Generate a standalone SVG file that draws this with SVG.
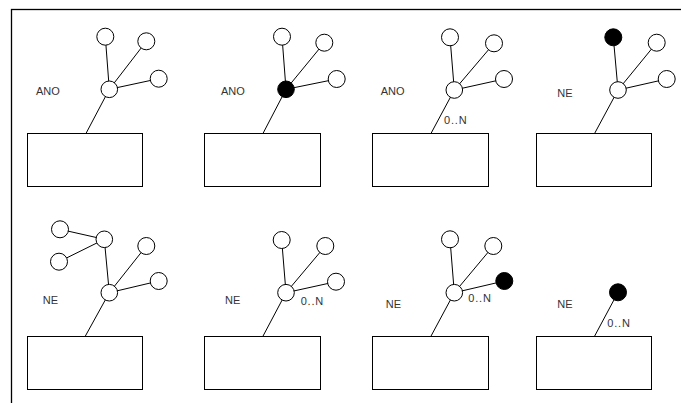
<svg xmlns="http://www.w3.org/2000/svg" width="681" height="403" viewBox="0 0 681 403">
  <style>
    .frame { fill: none; stroke: #000; stroke-width: 1.3; }
    .box { fill: #fff; stroke: #000; stroke-width: 1; }
    .link { stroke: #000; stroke-width: 1; fill: none; }
    .open { fill: #fff; stroke: #000; stroke-width: 1; }
    .full { fill: #000; stroke: #000; stroke-width: 1; }
    .lbl { font-family: "Liberation Sans", Arial, sans-serif; font-size: 11px; fill: #333; }
    .card { font-family: "Liberation Sans", Arial, sans-serif; font-size: 11px; fill: #333; letter-spacing: 0.8px; }
  </style>

  <rect class="frame" x="11.5" y="9.5" width="700" height="420"/>

  <!-- connectors -->
  <g id="connectors">
    <!-- panel 1 -->
    <line class="link" x1="85.7" y1="134" x2="109.3" y2="89.3"/>
    <line class="link" x1="109.3" y1="89.3" x2="105.3" y2="36.7"/>
    <line class="link" x1="109.3" y1="89.3" x2="146.3" y2="41.3"/>
    <line class="link" x1="109.3" y1="89.3" x2="158.7" y2="78.7"/>
    <!-- panel 2 -->
    <line class="link" x1="262.7" y1="134" x2="286" y2="89.3"/>
    <line class="link" x1="286" y1="89.3" x2="282" y2="36.7"/>
    <line class="link" x1="286" y1="89.3" x2="324.3" y2="42.7"/>
    <line class="link" x1="286" y1="89.3" x2="336.7" y2="79"/>
    <!-- panel 3 -->
    <line class="link" x1="430.7" y1="134" x2="454.3" y2="90"/>
    <line class="link" x1="454.3" y1="90" x2="450" y2="37.3"/>
    <line class="link" x1="454.3" y1="90" x2="494" y2="43.3"/>
    <line class="link" x1="454.3" y1="90" x2="504" y2="79"/>
    <!-- panel 4 -->
    <line class="link" x1="594.3" y1="134" x2="618" y2="90"/>
    <line class="link" x1="618" y1="90" x2="613.3" y2="37.3"/>
    <line class="link" x1="618" y1="90" x2="656.7" y2="42.7"/>
    <line class="link" x1="618" y1="90" x2="666.7" y2="79"/>
    <!-- panel 5 -->
    <line class="link" x1="85" y1="336.7" x2="109.3" y2="292.7"/>
    <line class="link" x1="109.3" y1="292.7" x2="104.3" y2="239.3"/>
    <line class="link" x1="104.3" y1="239.3" x2="60" y2="229.3"/>
    <line class="link" x1="104.3" y1="239.3" x2="59" y2="261.7"/>
    <line class="link" x1="109.3" y1="292.7" x2="146.3" y2="246"/>
    <line class="link" x1="109.3" y1="292.7" x2="158.7" y2="281"/>
    <!-- panel 6 -->
    <line class="link" x1="262.7" y1="336.7" x2="286" y2="292.7"/>
    <line class="link" x1="286" y1="292.7" x2="281.7" y2="240"/>
    <line class="link" x1="286" y1="292.7" x2="325.3" y2="246"/>
    <line class="link" x1="286" y1="292.7" x2="336" y2="281.7"/>
    <!-- panel 7 -->
    <line class="link" x1="430.7" y1="336.7" x2="454.3" y2="292.7"/>
    <line class="link" x1="454.3" y1="292.7" x2="450" y2="239.3"/>
    <line class="link" x1="454.3" y1="292.7" x2="493.3" y2="246"/>
    <line class="link" x1="454.3" y1="292.7" x2="504.3" y2="281"/>
    <!-- panel 8 -->
    <line class="link" x1="594.3" y1="336.7" x2="618" y2="292.3"/>
  </g>

  <!-- panel 1 -->
  <g id="p1-box"><rect class="box" x="27.5" y="133.5" width="115" height="53"/></g>
  <g id="p1-hub"><circle class="open" cx="109.3" cy="89.3" r="8.3"/></g>
  <g id="p1-a"><circle class="open" cx="105.3" cy="36.7" r="8.5"/></g>
  <g id="p1-b"><circle class="open" cx="146.3" cy="41.3" r="8.5"/></g>
  <g id="p1-c"><circle class="open" cx="158.7" cy="78.7" r="8.5"/></g>
  <text class="lbl" x="36" y="95">ANO</text>

  <!-- panel 2 -->
  <g id="p2-box"><rect class="box" x="204.5" y="133.5" width="116" height="53"/></g>
  <g id="p2-hub"><circle class="full" cx="286" cy="89.3" r="8.3"/></g>
  <g id="p2-a"><circle class="open" cx="282" cy="36.7" r="8.5"/></g>
  <g id="p2-b"><circle class="open" cx="324.3" cy="42.7" r="8.5"/></g>
  <g id="p2-c"><circle class="open" cx="336.7" cy="79" r="8.5"/></g>
  <text class="lbl" x="221" y="95">ANO</text>

  <!-- panel 3 -->
  <g id="p3-box"><rect class="box" x="372.5" y="133.5" width="116" height="53"/></g>
  <g id="p3-hub"><circle class="open" cx="454.3" cy="90" r="8.3"/></g>
  <g id="p3-a"><circle class="open" cx="450" cy="37.3" r="8.5"/></g>
  <g id="p3-b"><circle class="open" cx="494" cy="43.3" r="8.5"/></g>
  <g id="p3-c"><circle class="open" cx="504" cy="79" r="8.5"/></g>
  <text class="lbl" x="380.7" y="95">ANO</text>
  <text class="card" x="444" y="124">0..N</text>

  <!-- panel 4 -->
  <g id="p4-box"><rect class="box" x="536.5" y="133.5" width="115" height="53"/></g>
  <g id="p4-hub"><circle class="open" cx="618" cy="90" r="8.3"/></g>
  <g id="p4-a"><circle class="full" cx="613.3" cy="37.3" r="8.5"/></g>
  <g id="p4-b"><circle class="open" cx="656.7" cy="42.7" r="8.5"/></g>
  <g id="p4-c"><circle class="open" cx="666.7" cy="79" r="8.5"/></g>
  <text class="lbl" x="557.3" y="96.7">NE</text>

  <!-- panel 5 -->
  <g id="p5-box"><rect class="box" x="27.5" y="336.5" width="115" height="53"/></g>
  <g id="p5-hub"><circle class="open" cx="109.3" cy="292.7" r="8.3"/></g>
  <g id="p5-sub"><circle class="open" cx="104.3" cy="239.3" r="8.3"/></g>
  <g id="p5-d"><circle class="open" cx="60" cy="229.3" r="8.5"/></g>
  <g id="p5-e"><circle class="open" cx="59" cy="261.7" r="8.5"/></g>
  <g id="p5-b"><circle class="open" cx="146.3" cy="246" r="8.5"/></g>
  <g id="p5-c"><circle class="open" cx="158.7" cy="281" r="8.5"/></g>
  <text class="lbl" x="42.7" y="304">NE</text>

  <!-- panel 6 -->
  <g id="p6-box"><rect class="box" x="204.5" y="336.5" width="116" height="53"/></g>
  <g id="p6-hub"><circle class="open" cx="286" cy="292.7" r="8.3"/></g>
  <g id="p6-a"><circle class="open" cx="281.7" cy="240" r="8.5"/></g>
  <g id="p6-b"><circle class="open" cx="325.3" cy="246" r="8.5"/></g>
  <g id="p6-c"><circle class="open" cx="336" cy="281.7" r="8.5"/></g>
  <text class="lbl" x="225" y="304">NE</text>
  <text class="card" x="300.7" y="305">0..N</text>

  <!-- panel 7 -->
  <g id="p7-box"><rect class="box" x="372.5" y="336.5" width="116" height="53"/></g>
  <g id="p7-hub"><circle class="open" cx="454.3" cy="292.7" r="8.3"/></g>
  <g id="p7-a"><circle class="open" cx="450" cy="239.3" r="8.5"/></g>
  <g id="p7-b"><circle class="open" cx="493.3" cy="246" r="8.5"/></g>
  <g id="p7-c"><circle class="full" cx="504.3" cy="281" r="8.5"/></g>
  <text class="lbl" x="385.7" y="308">NE</text>
  <text class="card" x="468.3" y="302">0..N</text>

  <!-- panel 8 -->
  <g id="p8-box"><rect class="box" x="536.5" y="336.5" width="115" height="53"/></g>
  <g id="p8-end"><circle class="full" cx="618" cy="292.3" r="8.5"/></g>
  <text class="lbl" x="557.3" y="308">NE</text>
  <text class="card" x="607.3" y="327">0..N</text>
</svg>
